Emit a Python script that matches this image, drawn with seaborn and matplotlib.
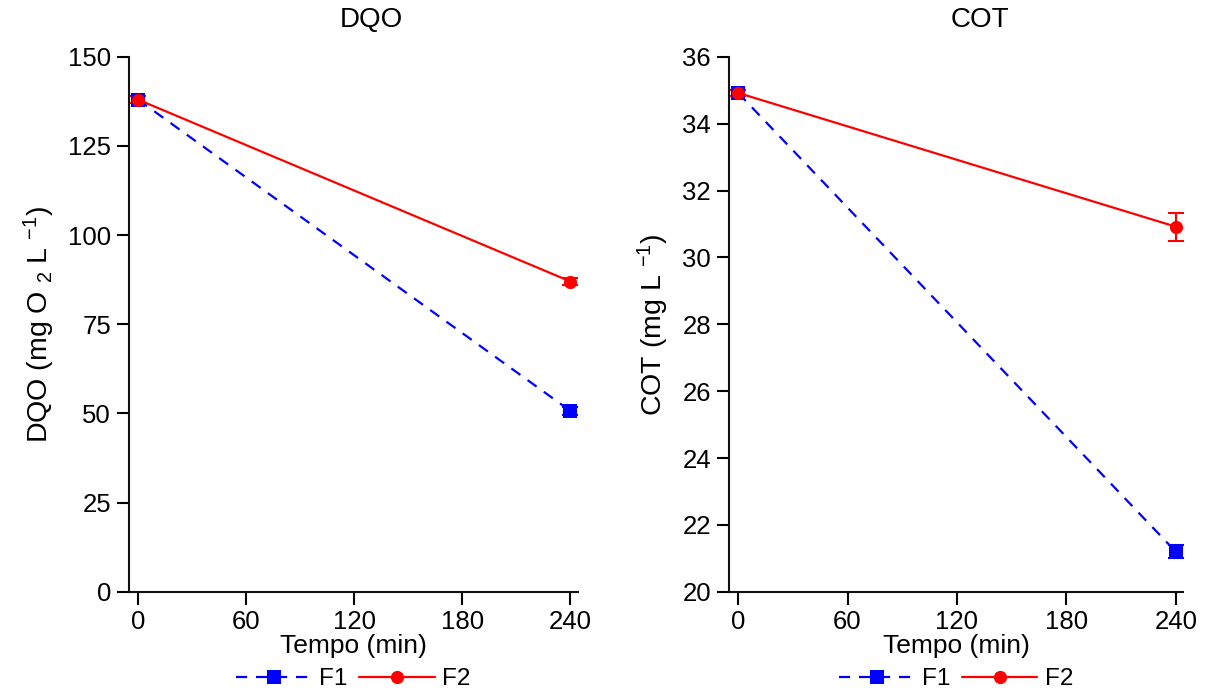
import matplotlib
matplotlib.use("Agg")
import matplotlib.pyplot as plt
import seaborn as sns
import pandas as pd

sns.set_style("ticks")
plt.rcParams['font.family'] = ['Liberation Sans', 'DejaVu Sans']
plt.rcParams['mathtext.fontset'] = 'custom'
plt.rcParams['mathtext.rm'] = 'Liberation Sans'
plt.rcParams['mathtext.it'] = 'Liberation Sans'
plt.rcParams['text.color'] = 'black'
plt.rcParams['axes.labelcolor'] = 'black'
plt.rcParams['xtick.color'] = 'black'
plt.rcParams['ytick.color'] = 'black'

tempo = [0, 240]
series = ["F1", "F2"]
dqo_f1 = [138.0, 50.7]
dqo_f2 = [138.0, 87.0]
dqo_f1_err = [1.0, 1.2]
dqo_f2_err = [1.0, 1.0]
cot_f1 = [34.92, 21.2]
cot_f2 = [34.92, 30.92]
cot_f1_err = [0.08, 0.2]
cot_f2_err = [0.08, 0.42]
xticks = [0, 60, 120, 180, 240]
dqo_yticks = [0, 25, 50, 75, 100, 125, 150]
cot_yticks = [20, 22, 24, 26, 28, 30, 32, 34, 36]

colors = {"F1": "#0000ff", "F2": "#ff0000"}
markers = {"F1": "s", "F2": "o"}
dashes = {"F1": (5, 4), "F2": ""}

fig = plt.figure(figsize=(12.06, 6.93), dpi=100)
ax1 = fig.add_axes([0.107, 0.146, 0.372, 0.772])
ax2 = fig.add_axes([0.6045, 0.146, 0.3765, 0.772])

def panel(ax, f1, f2, e1, e2, yticks, ylim, title, ylabel, title_x):
    df = pd.DataFrame({
        "Tempo": tempo + tempo,
        "valor": f1 + f2,
        "serie": ["F1"] * len(tempo) + ["F2"] * len(tempo),
    })
    sns.lineplot(data=df, x="Tempo", y="valor", hue="serie", style="serie",
                 palette=colors, markers=markers, dashes=dashes,
                 markersize=9.5, markeredgewidth=0, linewidth=1.6, ax=ax)
    ax.errorbar(tempo, f1, yerr=e1, fmt="none", ecolor=colors["F1"],
                elinewidth=1.5, capsize=6, capthick=1.5, zorder=1)
    ax.errorbar(tempo, f2, yerr=e2, fmt="none", ecolor=colors["F2"],
                elinewidth=1.5, capsize=6, capthick=1.5, zorder=1)
    ax.set_xlim(-5, 244)
    ax.set_ylim(*ylim)
    ax.set_xticks(xticks)
    ax.set_yticks(yticks)
    ax.tick_params(labelsize=18.5, length=9, width=1.5, pad=4)
    for s in ["left", "bottom"]:
        ax.spines[s].set_linewidth(1.5)
        ax.spines[s].set_color("#111111")
    sns.despine(ax=ax)
    ax.set_xlabel("Tempo (min)", fontsize=19)
    ax.xaxis.set_label_coords(0.5, -0.079)
    ax.set_ylabel(ylabel, fontsize=20.5, labelpad=8)
    ax.text(title_x, 1.045, title, transform=ax.transAxes, ha="center",
            va="bottom", fontsize=20)
    h, l = ax.get_legend_handles_labels()
    ax.legend(h, l, loc="center", bbox_to_anchor=(0.5, -0.163), ncol=2,
              frameon=False, fontsize=17.5, handlelength=3.1, columnspacing=0.5,
              handletextpad=0.3, borderpad=0, borderaxespad=0)

panel(ax1, dqo_f1, dqo_f2, dqo_f1_err, dqo_f2_err, dqo_yticks, (0, 150),
      "DQO", r"DQO (mg O $_\mathregular{2}$ L $^\mathregular{-1}$)", 0.54)
panel(ax2, cot_f1, cot_f2, cot_f1_err, cot_f2_err, cot_yticks, (20, 36),
      "COT", r"COT (mg L $^\mathregular{-1}$)", 0.553)

fig.savefig("out.png", dpi=100)
